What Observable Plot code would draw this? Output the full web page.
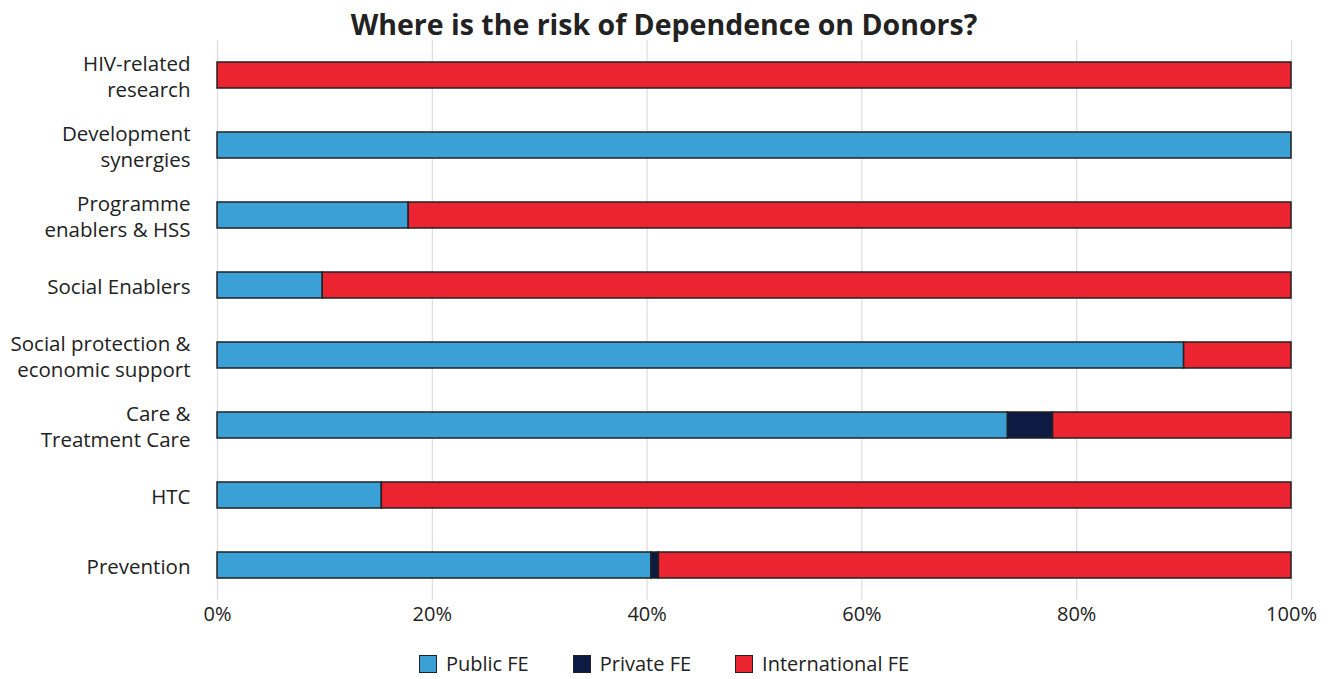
<!DOCTYPE html>
<html><head><meta charset="utf-8">
<script src="https://cdn.jsdelivr.net/npm/d3@7"></script>
<script src="https://cdn.jsdelivr.net/npm/@observablehq/plot@0.6"></script>
<style>
body{margin:0;background:#fff;font-family:"Open Sans",sans-serif;}
#title{position:absolute;left:0;top:5px;width:1328px;text-align:center;font-size:28.5px;font-weight:bold;color:#222;}
#legend{position:absolute;top:650px;left:0;width:1328px;display:flex;justify-content:center;font-size:20px;color:#222;}
.item{display:flex;align-items:center;margin:0 22px;}
.sw{width:18px;height:18px;border:1.5px solid #222;margin-right:9px;box-sizing:border-box;}
</style></head>
<body>
<div id="title">Where is the risk of Dependence on Donors?</div>
<div id="chart"></div>
<div id="legend"></div>
<script>
const categories = ["HIV-related\nresearch","Development\nsynergies","Programme\nenablers & HSS","Social Enablers","Social protection &\neconomic support","Care &\nTreatment Care","HTC","Prevention"];
const series = ["Public FE","Private FE","International FE"];
const colors = ["#3aa0d5","#0d1a41","#ec2330"];
const publicFE =        [0.000, 1.000, 0.178, 0.098, 0.900, 0.736, 0.153, 0.404];
const privateFE =       [0.000, 0.000, 0.000, 0.000, 0.000, 0.042, 0.000, 0.007];
const internationalFE = [1.000, 0.000, 0.822, 0.902, 0.100, 0.222, 0.847, 0.589];
const xTicks = [0, 0.2, 0.4, 0.6, 0.8, 1.0];

const vals = [publicFE, privateFE, internationalFE];
const data = [];
categories.forEach((c, i) => series.forEach((s, j) => data.push({category: c, type: s, value: vals[j][i]})));

const chart = Plot.plot({
  width: 1328, height: 640,
  marginLeft: 217, marginRight: 37, marginTop: 40, marginBottom: 40,
  style: {fontFamily: "'Open Sans', sans-serif", fontSize: "20px", color: "#222"},
  x: {domain: [0, 1], ticks: xTicks, tickFormat: d => Math.round(d * 100) + "%", grid: false, label: null},
  y: {domain: categories, paddingInner: 0.627, paddingOuter: 0.3135, label: null},
  color: {domain: series, range: colors},
  marks: [
    Plot.ruleX(xTicks, {stroke: "#ddd", strokeWidth: 1.2}),
    Plot.barX(data, Plot.stackX({x: "value", y: "category", fill: "type", order: series, stroke: "#222", strokeWidth: 1.5})),
    Plot.axisX({ticks: xTicks, tickFormat: d => Math.round(d * 100) + "%", tickSize: 0, tickPadding: 6, fontSize: 20, label: null}),
    Plot.axisY({tickSize: 0, tickPadding: 27, fontSize: 20.5, lineHeight: 1.3, label: null})
  ]
});
document.getElementById("chart").appendChild(chart);

const leg = document.getElementById("legend");
series.forEach((s, i) => {
  const it = document.createElement("div"); it.className = "item";
  const sw = document.createElement("div"); sw.className = "sw"; sw.style.background = colors[i];
  const t = document.createElement("span"); t.textContent = s;
  it.appendChild(sw); it.appendChild(t); leg.appendChild(it);
});
</script>
</body></html>
